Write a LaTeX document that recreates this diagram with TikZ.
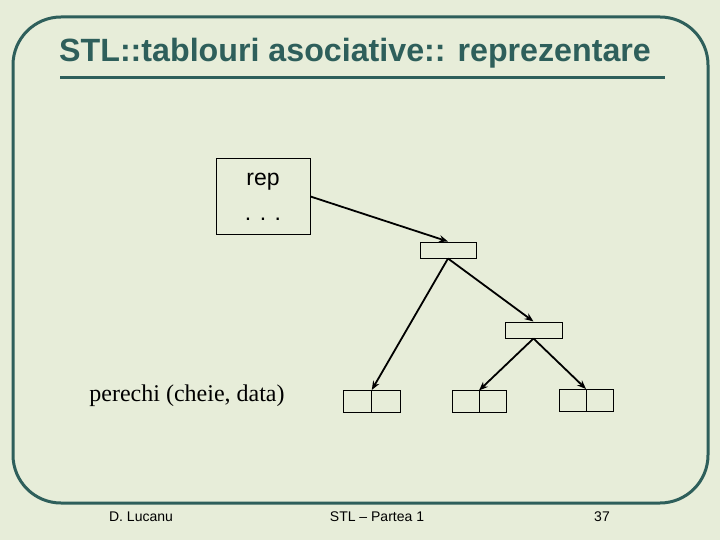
\documentclass[tikz,border=0pt]{standalone}
\usepackage{fontspec}
\setmainfont{Liberation Sans}
\newfontfamily\serifpart{Liberation Serif}
\usetikzlibrary{positioning,arrows.meta}
\definecolor{slidebg}{HTML}{E7EDD9}
\definecolor{slideteal}{HTML}{2E5F5B}

\begin{document}
\begin{tikzpicture}[x=1pt, y=-1pt,
		cell/.style={draw, line width=1pt, minimum width=28.5pt, minimum height=22pt, inner sep=0pt, outer sep=0pt},
		keybox/.style={draw, line width=1pt, minimum width=56pt, minimum height=16pt, inner sep=0pt},
		link/.style={line width=1.8pt, -{Stealth[length=9pt, width=7pt]}},
		foot/.style={font=\fontsize{14}{16}\selectfont, anchor=base}] %
		% Slide
		\fill[slidebg] (0,0) rectangle (720,540) ;
		\draw[slideteal, line width=3pt, rounded corners=48pt] (13,17) rectangle (708,503) ;
		\node[anchor=base west, inner sep=0pt, text=slideteal, font=\fontsize{32.2}{36}\selectfont\bfseries] (Title) at (59,62) {STL::tablouri asociative:: reprezentare} ;
		\draw[slideteal, line width=3pt] (60,78) -- (665,78) ;
		% Map object
		\node[draw, line width=1pt, minimum width=94pt, minimum height=75pt, align=center, font=\fontsize{23}{35}\selectfont] (Rep) at (263,196.5) {rep\\. . .} ;
		% Tree
		\node[keybox] (Root) at (448,250) {} ;
		\node[keybox, minimum width=57pt] (Inner) at (533.5,330) {} ;
		% Leaves
		\node[cell] (LeafA) at (357.5,401) {} ;
		\node[cell, right=0pt of LeafA] (LeafAdata) {} ;
		\node[cell, minimum width=27pt] (LeafB) at (465.5,401.5) {} ;
		\node[cell, minimum width=27pt, right=0pt of LeafB] (LeafBdata) {} ;
		\node[cell, minimum width=27pt] (LeafC) at (572.5,400) {} ;
		\node[cell, minimum width=27pt, right=0pt of LeafC] (LeafCdata) {} ;
		\node[font=\serifpart\fontsize{24}{28}\selectfont] (Pairs) at (187,396) {perechi (cheie, data)} ;
		\draw[link] (Rep.east) -- (Root.north) ;
		\draw[link] (Root.south) -- (LeafA.north east) ;
		\draw[link] (Root.south) -- (Inner.north) ;
		\draw[link] (Inner.south) -- (LeafB.north east) ;
		\draw[link] (Inner.south) -- (LeafC.north east) ;
		% Footer
		\node[foot] (Author) at (141,521) {D. Lucanu} ;
		\node[foot] (Part) at (377,521) {STL -- Partea 1} ;
		\node[foot] (Page) at (602,521) {37} ;
	\end{tikzpicture}
\end{document}
